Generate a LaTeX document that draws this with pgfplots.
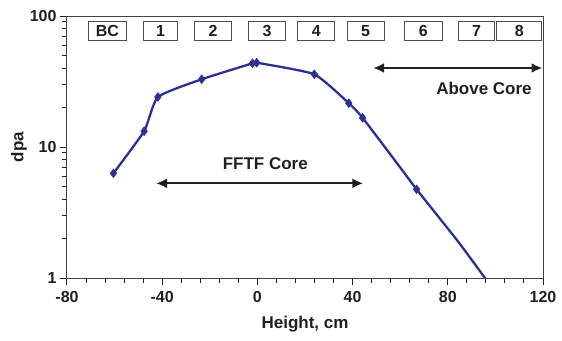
\documentclass[border=0pt]{standalone}
\usepackage{fontspec}
\setmainfont{Liberation Sans}
\usepackage{pgfplots}
\pgfplotsset{compat=1.18}
\usetikzlibrary{arrows.meta}
\definecolor{lineblue}{HTML}{2B3192}
\definecolor{txt}{HTML}{231F20}
\begin{document}
\begin{tikzpicture}
\useasboundingbox (-67pt,-62pt) rectangle (495pt,278pt);
\begin{axis}[
  at={(0pt,0pt)}, anchor=south west,
  scale only axis, width=476pt, height=262pt,
  xmin=-80, xmax=120, ymin=1, ymax=100,
  ymode=log,
  xtick={-80,-40,0,40,80,120},
  minor xtick={-72,-64,-56,-48,-32,-24,-16,-8,8,16,24,32,48,56,64,72,88,96,104,112},
  ytick={1,10,100},
  yticklabels={1,10,100},
  minor ytick={2,3,4,5,6,7,8,9,20,30,40,50,60,70,80,90},
  tick align=outside,
  xtick pos=bottom, ytick pos=left,
  every tick/.style={txt, line width=1pt},
  major tick length=7pt, minor tick length=5pt,
  axis line style={txt!85, line width=1pt},
  /pgf/number format/assume math mode=true,
  ticklabel style={font=\fontsize{16}{19}\selectfont\bfseries, text=txt},
  xticklabel style={yshift=-3pt},
  xlabel={Height, cm}, ylabel={dpa},
  label style={font=\fontsize{17}{20}\selectfont\bfseries, text=txt},
  xlabel style={yshift=-6pt},
  ylabel style={yshift=-4pt},
  clip=true,
]
\addplot[lineblue, line width=2.3pt, smooth, tension=0.3, mark=none] coordinates {
  (-60.5,6.3) (-47.6,13.2) (-41.8,24.1) (-23.4,32.9) (-2.1,43.5) (-0.3,44.0)
  (23.9,35.9) (38.4,21.6) (44.2,16.7) (59.2,7.3) (66.9,4.75) (84.4,1.89) (95.6,1.0) (98,0.85)
};
\addplot[only marks, lineblue, mark=diamond*, mark size=4.5pt] coordinates {
  (-60.5,6.3) (-47.6,13.2) (-41.8,24.1) (-23.4,32.9) (-2.1,43.5) (-0.3,44.0)
  (23.9,35.9) (38.4,21.6) (44.2,16.7) (66.9,4.75)
};
% boxes
\foreach \a/\b/\t in {-71.1/-54.9/BC, -47.9/-33.5/1, -26.5/-10.8/2, -3.8/11.9/3, 16.9/32.6/4, 37.8/53.2/5, 61.7/77.7/6, 84.4/99.8/7, 100.5/119.5/8}{
  \edef\tmp{\noexpand\draw[txt!80, line width=1pt, fill=white] (axis cs:\a,64.7) rectangle (axis cs:\b,90.5);
    \noexpand\node[font=\noexpand\fontsize{16}{18}\noexpand\selectfont\noexpand\bfseries, text=txt] at (axis cs:{(\a+\b)/2},76.5) {\t};}
  \tmp
}
\draw[txt, line width=2.3pt, {Latex[length=11pt,width=10pt]}-{Latex[length=11pt,width=10pt]}] (axis cs:-42.6,5.28) -- (axis cs:44.5,5.28);
\node[font=\fontsize{17}{20}\selectfont\bfseries, text=txt] at (axis cs:3.3,7.5) {FFTF Core};
\draw[txt, line width=2.3pt, {Latex[length=11pt,width=10pt]}-{Latex[length=11pt,width=10pt]}] (axis cs:48.6,40.1) -- (axis cs:119.8,40.1);
\node[font=\fontsize{17}{20}\selectfont\bfseries, text=txt] at (axis cs:95.2,28.2) {Above Core};
\end{axis}
\end{tikzpicture}
\end{document}
